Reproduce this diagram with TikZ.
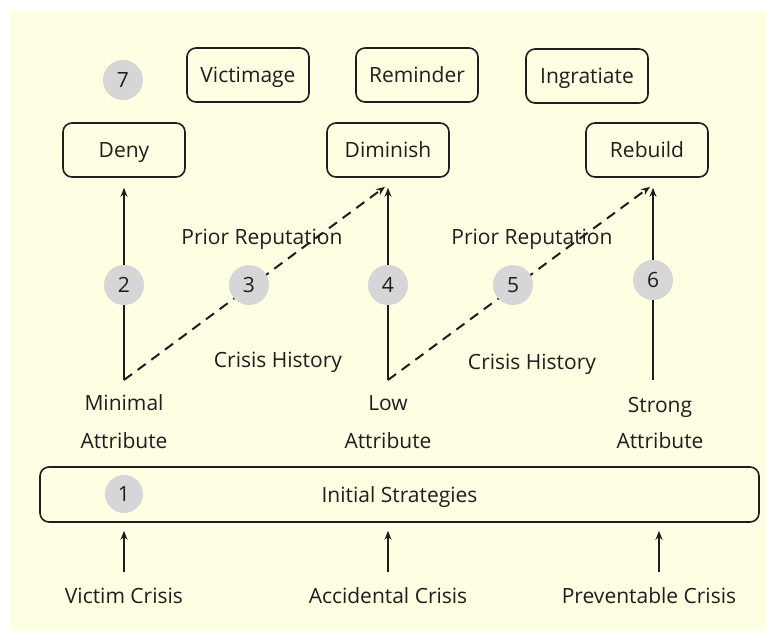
\documentclass[tikz,border=0pt]{standalone}
\usepackage{fontspec}
\setmainfont{Open Sans}
\usetikzlibrary{arrows.meta}
\definecolor{paper}{RGB}{254,254,226}
\definecolor{badgegrey}{RGB}{214,214,217}
\definecolor{ink}{RGB}{30,30,30}
\begin{document}
\begin{tikzpicture}[x=1pt,y=-1pt,
  every node/.style={font=\fontsize{21}{25}\selectfont, text=ink, inner sep=0pt,
                     text height=15pt, text depth=0pt},
  strat/.style={draw=ink, line width=1.6pt, rounded corners=9pt,
                minimum width=122pt, minimum height=54pt},
  badge/.style={circle, fill=badgegrey, minimum size=40pt},
  arr/.style={draw=ink, line width=2pt, -{Stealth[length=9pt,width=7pt]}},
  dasharr/.style={arr, dash pattern=on 10pt off 7pt}]
\useasboundingbox (0,0) rectangle (769,630);
\fill[paper] (10,11) rectangle (766,630);

% optional strategies
\node[badge] (b7) at (123,80) {7};
\node[strat] (victimage) at (248,75) {Victimage};
\node[strat] (reminder) at (417,75) {Reminder};
\node[strat] (ingratiate) at (587,76) {Ingratiate};

% main response strategies
\node[strat] (deny) at (124,150) {Deny};
\node[strat] (diminish) at (388,150) {Diminish};
\node[strat] (rebuild) at (647,150) {Rebuild};

% attribution levels
\coordinate (minA) at (124,380);
\coordinate (lowA) at (388,380);
\coordinate (strA) at (653,380);

\draw[arr, shorten >=10pt] (minA) -- (deny.south);
\draw[arr, shorten >=10pt] (lowA) -- (diminish.south);
\draw[arr, shorten >=10pt] (strA) -- (strA |- rebuild.south);
\draw[dasharr] (minA) -- ([xshift=-3pt,yshift=-9pt]diminish.south);
\draw[dasharr] (lowA) -- ([xshift=3pt,yshift=-9pt]rebuild.south);

\node[badge] (b2) at (124,285) {2};
\node[badge] (b3) at (249,285) {3};
\node[badge] (b4) at (388,285) {4};
\node[badge] (b5) at (513,285) {5};
\node[badge] (b6) at (653,280) {6};

\node (prior1) at (262,237) {Prior Reputation};
\node (prior2) at (532,237) {Prior Reputation};
\node (hist1) at (278,360) {Crisis History};
\node (hist2) at (532,362) {Crisis History};

\node (minimal) at (124,403) {Minimal};
\node (minattr) at (124,441) {Attribute};
\node (low) at (388,403) {Low};
\node (lowattr) at (388,441) {Attribute};
\node (strong) at (660,405) {Strong};
\node (strattr) at (660,441) {Attribute};

% initial strategies
\node[strat, minimum width=719pt, minimum height=55pt] (init) at (399.5,494.5) {Initial Strategies};
\node[badge, minimum size=38pt] (b1) at (124,494) {1};

% crisis types
\node (victim) at (124,596) {Victim Crisis};
\node (accid) at (388,596) {Accidental Crisis};
\node (prevent) at (649,596) {Preventable Crisis};

\draw[arr] ([yshift=16pt]victim.north) -- ([yshift=-8pt]victim.north |- init.south);
\draw[arr] ([yshift=16pt]accid.north) -- ([yshift=-8pt]accid.north |- init.south);
\draw[arr] ([xshift=10pt,yshift=16pt]prevent.north) -- ([xshift=10pt,yshift=-8pt]prevent.north |- init.south);
\end{tikzpicture}
\end{document}
